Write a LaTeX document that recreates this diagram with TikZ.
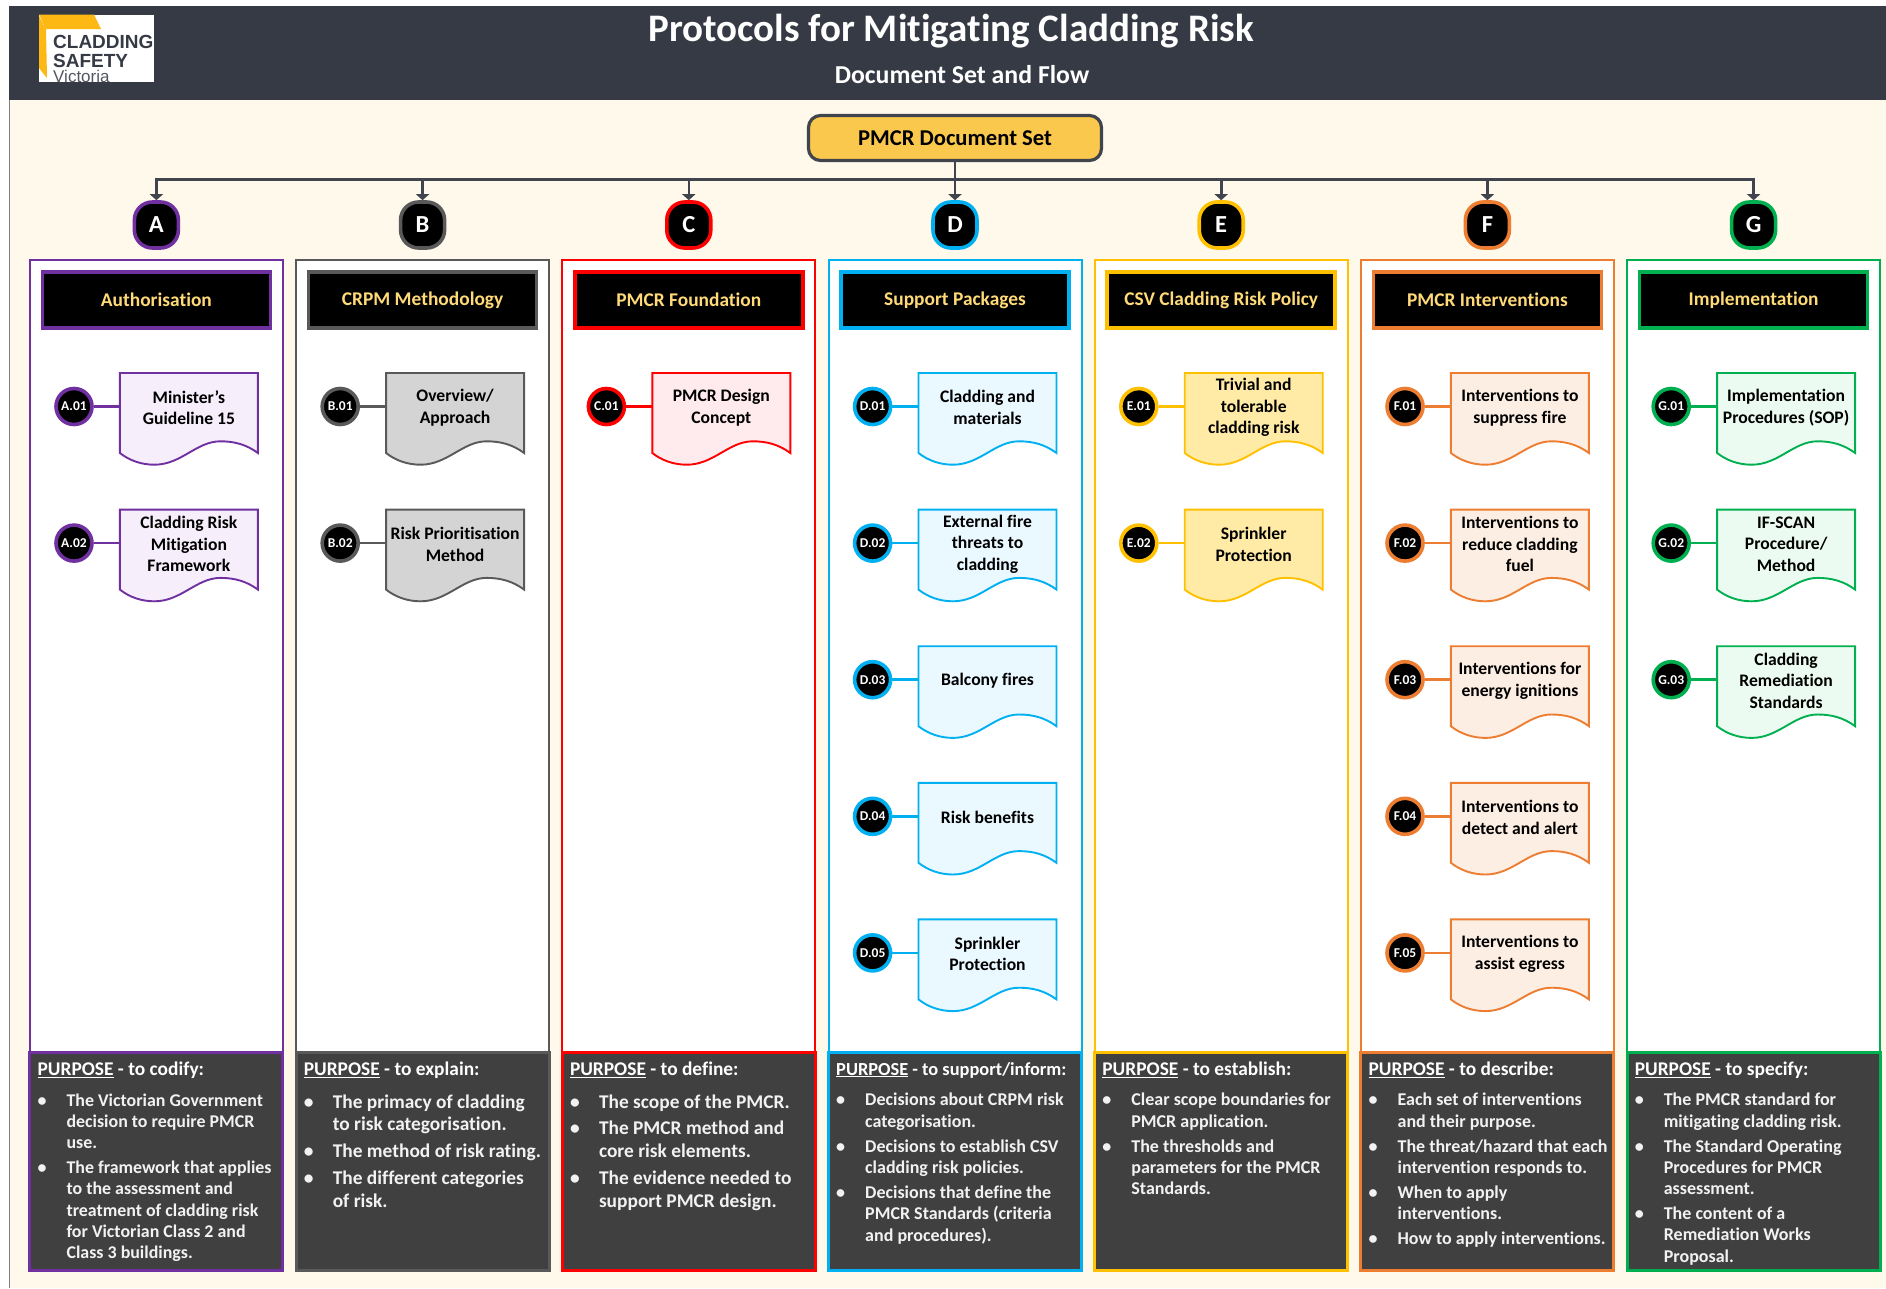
\documentclass[tikz,border=0pt]{standalone}
\usepackage{fontspec}
\setmainfont[Ligatures=CommonOff]{Carlito}
\newfontfamily\logofont{Liberation Sans}
\usetikzlibrary{arrows.meta,calc}
\definecolor{headbar}{HTML}{363A44}
\definecolor{pagebg}{HTML}{FFF9EB}
\definecolor{gold}{HTML}{FBC84E}
\definecolor{conn}{HTML}{3F444D}
\definecolor{titlegold}{HTML}{FFDA78}
\definecolor{panel}{HTML}{404040}
\definecolor{logogold}{HTML}{FDB813}
\definecolor{colA}{HTML}{7030A0}\definecolor{filA}{HTML}{F6EFFB}
\definecolor{colB}{HTML}{595959}\definecolor{filB}{HTML}{D4D4D4}
\definecolor{colC}{HTML}{FF0000}\definecolor{filC}{HTML}{FFEBEE}
\definecolor{colD}{HTML}{00B0F0}\definecolor{filD}{HTML}{EAF8FF}
\definecolor{colE}{HTML}{FFC000}\definecolor{filE}{HTML}{FFEBA6}
\definecolor{colF}{HTML}{ED7D31}\definecolor{filF}{HTML}{FDEEE3}
\definecolor{colG}{HTML}{00B050}\definecolor{filG}{HTML}{EBFBF1}
\newcounter{bulc}
\newcommand\PanelSize{\fontsize{17.9}{21.4}\selectfont}
\newcommand\PurposeSize{\fontsize{19.4}{23}\selectfont}
\tikzset{
 conline/.style={draw=conn,line width=2.6pt,-{Triangle[length=6pt,width=13pt]}},
 letterbadge/.style={draw=col#1,fill=black,line width=3.6pt,rounded corners=18pt,minimum width=44pt,minimum height=46pt,inner sep=0pt,text=white,font=\fontsize{24.5}{28}\selectfont\bfseries},
 itembadge/.style={circle,draw=col#1,fill=black,line width=3.6pt,minimum size=36pt,inner sep=0pt,text=white,font=\fontsize{13.5}{15}\selectfont\bfseries},
 doctext/.style={minimum width=138pt,minimum height=67pt,inner sep=0pt,align=center,font=\fontsize{17.6}{21.6}\selectfont\bfseries},
 coltitle/.style={draw=col#1,fill=black,line width=3.6pt,minimum width=228pt,minimum height=56pt,inner sep=0pt,text=titlegold,font=\fontsize{19.4}{23}\selectfont\bfseries},
 purposehead/.style={anchor=west,inner sep=0pt,text=white,font=\PurposeSize\bfseries},
 bultext/.style={anchor=north west,inner sep=0pt,align=left,text=white!95!black,font=\PanelSize\bfseries},
}
% letter, centre x, title, purpose tail
\newcommand\Col[4]{%
 \draw[draw=col#1,fill=white,line width=2pt] (#2-126.5,260) rectangle (#2+126.5,1052);
 \draw[draw=col#1,fill=panel,line width=3pt] (#2-126.5,1052) rectangle (#2+126.5,1270);
 \node[letterbadge=#1] (L#1) at (#2,225) {#1};
 \node[coltitle=#1] (T#1) at (#2,300) {#3};
 \node[purposehead] (P#1) at (#2-119,1070) {\underline{PURPOSE} - #4};
}
% letter, centre x, row, text
\newcommand\Item[4]{%
 \pgfmathsetmacro\rowy{406.5+136.6*(#3-1)}
 \begin{scope}[shift={(#2,\rowy)}]
  \draw[draw=col#1,fill=fil#1,line width=1.9pt] (-36.5,-33.5) -- (101.5,-33.5) -- (101.5,46.5)
    .. controls (90,38) and (78,34.8) .. (64,34.8)
    .. controls (40,34.8) and (25,58.2) .. (-2,58.2)
    .. controls (-15,58.2) and (-27,54) .. (-36.5,46.5) -- cycle;
  \node[doctext] (D#1#3) at (32.5,1) {#4};
  \node[itembadge=#1] (I#1#3) at (-82.4,0) {#1.0#3};
  \draw[draw=col#1,line width=2.6pt] (I#1#3.east) -- (I#1#3.east -| D#1#3.west);
 \end{scope}
}
% centre x, y of first line centre, text
\newcommand\Bul[3]{%
 \stepcounter{bulc}%
 \node[bultext] (bm\arabic{bulc}) at (#1-119,#2-9.7) {\strut •};
 \node[bultext] (bt\arabic{bulc}) at (#1-90,#2-9.7) {\strut #3};
}
\begin{document}
\begin{tikzpicture}[x=1pt,y=-1pt]
\useasboundingbox (0,0) rectangle (1886,1288);
\fill[white] (0,0) rectangle (1886,1288);
\fill[pagebg] (9.5,99) rectangle (1886,1288);
\draw[gray,line width=1pt] (9.5,99) -- (9.5,1288);
\fill[headbar] (9,6) rectangle (1886,100);
% logo
\fill[white] (39,14.5) rectangle (154,82);
\fill[logogold] (39,14.5) -- (94,14.5) -- (101,29) -- (46,29) -- cycle;
\fill[logogold] (39,16) -- (46,29) -- (47,78) -- (39,68) -- cycle;
\node[anchor=west,inner sep=0pt,text=headbar,font=\logofont\fontsize{19}{20}\selectfont\bfseries] (logoa) at (53,42) {CLADDING};
\node[anchor=west,inner sep=0pt,text=headbar,font=\logofont\fontsize{19}{20}\selectfont\bfseries] (logob) at (53,61) {SAFETY};
\begin{scope}
 \clip (39,14.5) rectangle (154,82);
 \node[anchor=west,inner sep=0pt,text=headbar!85,font=\logofont\fontsize{17}{19}\selectfont] (logoc) at (53,76.5) {Victoria};
\end{scope}
% titles
\node[inner sep=0pt,text=white,font=\fontsize{39}{44}\selectfont\bfseries] (title) at (951,31) {Protocols for Mitigating Cladding Risk};
\node[inner sep=0pt,text=white,font=\fontsize{25.8}{30}\selectfont\bfseries] (subtitle) at (962,75) {Document Set and Flow};
% top box
\node[draw=conn,fill=gold,line width=3.2pt,rounded corners=12pt,minimum width=293pt,minimum height=45pt,inner sep=0pt,font=\fontsize{22.6}{26}\selectfont\bfseries] (pmcr) at (955,138) {PMCR Document Set};
\coordinate (bus) at (955,179.5);
% columns
\Col{A}{156.4}{Authorisation}{to codify:}
\Col{B}{422.6}{CRPM Methodology}{to explain:}
\Col{C}{688.8}{PMCR Foundation}{to define:}
\renewcommand\PurposeSize{\fontsize{18.4}{23}\selectfont}
\Col{D}{955}{Support Packages}{to support/inform:}
\renewcommand\PurposeSize{\fontsize{19.4}{23}\selectfont}
\Col{E}{1221.2}{CSV Cladding Risk Policy}{to establish:}
\Col{F}{1487.4}{PMCR Interventions}{to describe:}
\Col{G}{1753.6}{Implementation}{to specify:}
% connectors
\draw[conline] (pmcr.south) -- (LD.north);
\draw[conline] (bus) -| (LA.north);
\draw[conline] (bus) -| (LB.north);
\draw[conline] (bus) -| (LC.north);
\draw[conline] (bus) -| (LE.north);
\draw[conline] (bus) -| (LF.north);
\draw[conline] (bus) -| (LG.north);
% documents
\Item{A}{156.4}{1}{Minister’s\\Guideline 15}
\Item{A}{156.4}{2}{Cladding Risk\\Mitigation\\Framework}
\Item{B}{422.6}{1}{Overview/\\Approach}
\Item{B}{422.6}{2}{Risk Prioritisation\\Method}
\Item{C}{688.8}{1}{PMCR Design\\Concept}
\Item{D}{955}{1}{Cladding and\\materials}
\Item{D}{955}{2}{External fire\\threats to\\cladding}
\Item{D}{955}{3}{Balcony fires}
\Item{D}{955}{4}{Risk benefits}
\Item{D}{955}{5}{Sprinkler\\Protection}
\Item{E}{1221.2}{1}{Trivial and\\tolerable\\cladding risk}
\Item{E}{1221.2}{2}{Sprinkler\\Protection}
\Item{F}{1487.4}{1}{Interventions to\\suppress fire}
\Item{F}{1487.4}{2}{Interventions to\\reduce cladding\\fuel}
\Item{F}{1487.4}{3}{Interventions for\\energy ignitions}
\Item{F}{1487.4}{4}{Interventions to\\detect and alert}
\Item{F}{1487.4}{5}{Interventions to\\assist egress}
\Item{G}{1753.6}{1}{Implementation\\Procedures (SOP)}
\Item{G}{1753.6}{2}{IF-SCAN\\Procedure/\\Method}
\Item{G}{1753.6}{3}{Cladding\\Remediation\\Standards}
% purposes
\Bul{156.4}{1100.7}{The Victorian Government\\decision to require PMCR\\use.}
\Bul{156.4}{1167.7}{The framework that applies\\to the assessment and\\treatment of cladding risk\\for Victorian Class 2 and\\Class 3 buildings.}
\renewcommand\PanelSize{\fontsize{19.4}{22.7}\selectfont}
\Bul{422.6}{1101.7}{The primacy of cladding\\to risk categorisation.}
\Bul{422.6}{1151}{The method of risk rating.}
\Bul{422.6}{1178.3}{The different categories\\of risk.}
\Bul{688.8}{1101.7}{The scope of the PMCR.}
\Bul{688.8}{1128}{The PMCR method and\\core risk elements.}
\Bul{688.8}{1178.3}{The evidence needed to\\support PMCR design.}
\renewcommand\PanelSize{\fontsize{18}{21.4}\selectfont}
\Bul{955}{1100.4}{Decisions about CRPM risk\\categorisation.}
\Bul{955}{1146.7}{Decisions to establish CSV\\cladding risk policies.}
\Bul{955}{1193}{Decisions that define the\\PMCR Standards (criteria\\and procedures).}
\Bul{1221.2}{1100.4}{Clear scope boundaries for\\PMCR application.}
\Bul{1221.2}{1146.7}{The thresholds and\\parameters for the PMCR\\Standards.}
\Bul{1487.4}{1100.3}{Each set of interventions\\and their purpose.}
\Bul{1487.4}{1146.7}{The threat/hazard that each\\intervention responds to.}
\Bul{1487.4}{1193}{When to apply\\interventions.}
\Bul{1487.4}{1239}{How to apply interventions.}
\Bul{1753.6}{1100.3}{The PMCR standard for\\mitigating cladding risk.}
\Bul{1753.6}{1146.7}{The Standard Operating\\Procedures for PMCR\\assessment.}
\Bul{1753.6}{1213.7}{The content of a\\Remediation Works\\Proposal.}
\end{tikzpicture}
\end{document}
